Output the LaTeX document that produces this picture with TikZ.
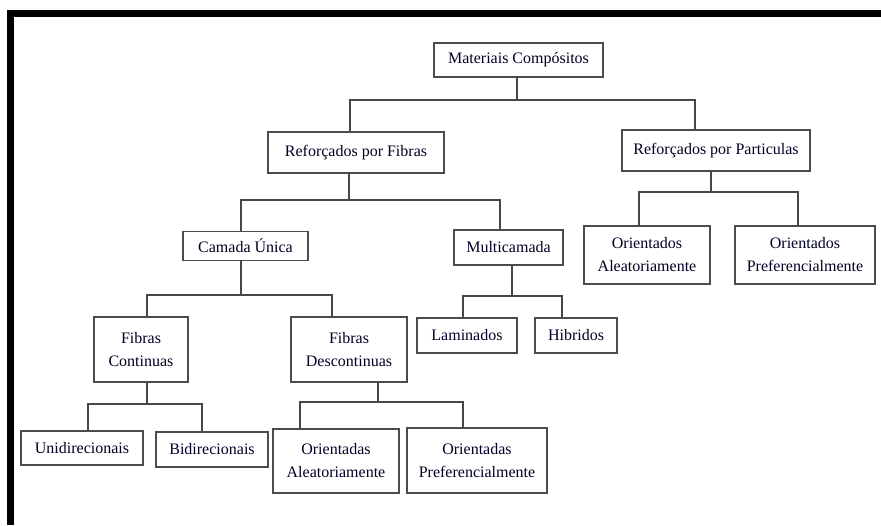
\documentclass[tikz,border=0pt]{standalone}
\usepackage{fontspec}
\setmainfont{Liberation Serif}
\begin{document}
\begin{tikzpicture}[x=1pt,y=-1pt,
  box/.style={draw=black!70,line width=1.4pt,inner sep=0pt,align=center,
    text=black!85!blue,font=\fontsize{16}{23}\selectfont,fill=white},
  link/.style={draw=black!72,line width=1.3pt}]
\useasboundingbox (0,0) rectangle (881,525);
\fill[white] (0,0) rectangle (881,525);
% frame
\fill[black] (7,10) rectangle (881,17);
\fill[black] (7,10) rectangle (14,525);
% nodes
\node[box,minimum width=169pt,minimum height=34pt] (mc) at (518.5,60) {Materiais Compósitos};
\node[box,minimum width=176pt,minimum height=41pt] (rf) at (356,152.5) {Reforçados por Fibras};
\node[box,minimum width=188pt,minimum height=41pt] (rp) at (716,150.5) {Reforçados por Particulas};
\node[box,minimum width=126pt,minimum height=58pt] (rpa) at (647,255) {Orientados\\Aleatoriamente};
\node[box,minimum width=140pt,minimum height=58pt] (rpp) at (805,255) {Orientados\\Preferencialmente};
\node[box,minimum width=125pt,minimum height=29pt] (cu) at (245.5,246) {Camada Única};
\node[box,minimum width=109pt,minimum height=35pt] (mu) at (508.5,247.5) {Multicamada};
\node[box,minimum width=94pt,minimum height=65pt] (fc) at (141,349.5) {Fibras\\Continuas};
\node[box,minimum width=116pt,minimum height=65pt] (fd) at (349,349.5) {Fibras\\Descontinuas};
\node[box,minimum width=100pt,minimum height=35pt] (la) at (467,335.5) {Laminados};
\node[box,minimum width=82pt,minimum height=35pt] (hi) at (576,335.5) {Hibridos};
\node[box,minimum width=122pt,minimum height=34pt] (un) at (82,448) {Unidirecionais};
\node[box,minimum width=112pt,minimum height=35pt] (bi) at (212,449.5) {Bidirecionais};
\node[box,minimum width=126pt,minimum height=64pt] (oa) at (336,461) {Orientadas\\Aleatoriamente};
\node[box,minimum width=140pt,minimum height=65pt] (op) at (477,460.5) {Orientadas\\Preferencialmente};
% bus coordinates
\coordinate (b1a) at (350,100); \coordinate (b1b) at (695,100); \coordinate (b1s) at (517,100);
\coordinate (b2a) at (241,200); \coordinate (b2b) at (500,200); \coordinate (b2s) at (349,200);
\coordinate (b3a) at (639,192); \coordinate (b3b) at (798,192); \coordinate (b3s) at (711,192);
\coordinate (b4a) at (147,295); \coordinate (b4b) at (332,295); \coordinate (b4s) at (241,295);
\coordinate (b5a) at (463,296); \coordinate (b5b) at (562,296); \coordinate (b5s) at (512,296);
\coordinate (b6a) at (88,404);  \coordinate (b6b) at (202,404); \coordinate (b6s) at (147,404);
\coordinate (b7a) at (300,402); \coordinate (b7b) at (463,402); \coordinate (b7s) at (378,402);
% connectors
\begin{scope}[on background layer/.style={}]
\draw[link] (mc.south -| b1s) -- (b1s);
\draw[link] (rf.north -| b1a) -- (b1a) -- (b1b) -- (rp.north -| b1b);
\draw[link] (rf.south -| b2s) -- (b2s);
\draw[link] (cu.north -| b2a) -- (b2a) -- (b2b) -- (mu.north -| b2b);
\draw[link] (rp.south -| b3s) -- (b3s);
\draw[link] (rpa.north -| b3a) -- (b3a) -- (b3b) -- (rpp.north -| b3b);
\draw[link] (cu.south -| b4s) -- (b4s);
\draw[link] (fc.north -| b4a) -- (b4a) -- (b4b) -- (fd.north -| b4b);
\draw[link] (mu.south -| b5s) -- (b5s);
\draw[link] (la.north -| b5a) -- (b5a) -- (b5b) -- (hi.north -| b5b);
\draw[link] (fc.south -| b6s) -- (b6s);
\draw[link] (un.north -| b6a) -- (b6a) -- (b6b) -- (bi.north -| b6b);
\draw[link] (fd.south -| b7s) -- (b7s);
\draw[link] (oa.north -| b7a) -- (b7a) -- (b7b) -- (op.north -| b7b);
\end{scope}
\end{tikzpicture}
\end{document}
